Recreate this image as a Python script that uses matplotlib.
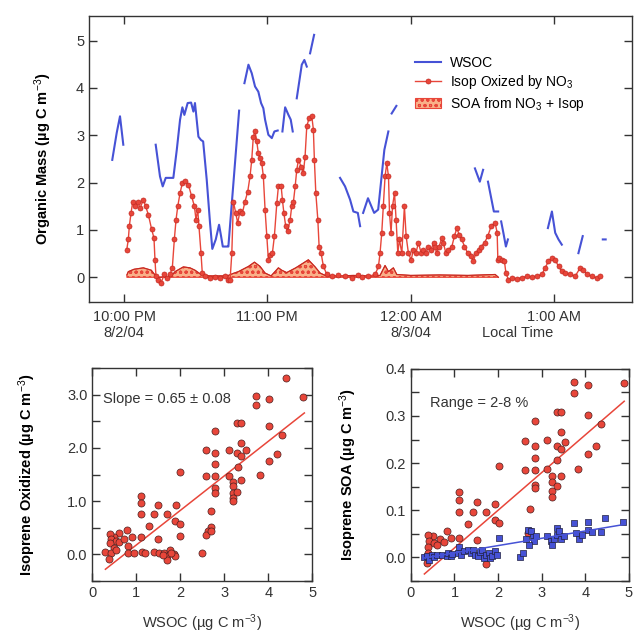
import numpy as np
import matplotlib
matplotlib.use("Agg")
import matplotlib.pyplot as plt
from matplotlib.ticker import MultipleLocator, FixedLocator

plt.rcParams['font.family'] = ['Liberation Sans', 'DejaVu Sans']
plt.rcParams['mathtext.fontset'] = 'custom'
plt.rcParams['mathtext.rm'] = 'Liberation Sans'
plt.rcParams['mathtext.it'] = 'Liberation Sans:italic'
plt.rcParams['hatch.linewidth'] = 0.8

nan = np.nan
# ---------------- Top panel data (hours after 10:00 PM) ----------------
wsoc_time = [-0.082, -0.051, -0.028, -0.005, nan,
             0.221, 0.251, 0.270, 0.291, 0.344, 0.368, 0.391, 0.407, 0.421, 0.444, 0.468,
             0.484, 0.495, 0.519, 0.537, 0.552, 0.577, 0.600, 0.616, 0.640, 0.663, 0.677,
             0.689, 0.723, 0.728, 0.765, 0.803, nan,
             0.840, 0.868, 0.891, 0.914, 0.937, 0.956, 0.972, 0.984, 1.007, 1.031, 1.049, 1.072, nan,
             1.105, 1.124, 1.147, 1.163, 1.177, nan,
             1.205, 1.240, 1.258, 1.275, nan,
             1.298, 1.326, nan,
             1.507, 1.542, 1.577, 1.600, 1.631, 1.647, nan,
             1.668, 1.702, 1.745, 1.773, 1.816, 1.844, nan,
             1.867, 1.900, nan,
             2.448, 2.482, 2.505, nan,
             2.539, 2.580, 2.610, nan,
             2.631, 2.647, 2.664, 2.678, nan,
             2.957, 2.985, 3.008, 3.031, 3.054, nan,
             3.170, 3.200, nan,
             3.340, 3.360]
wsoc_val = [2.48, 3.05, 3.40, 2.80, nan,
            2.80, 2.13, 1.92, 2.10, 2.10, 2.69, 3.33, 3.59, 3.43, 3.68, 3.69,
            3.50, 3.68, 2.97, 2.90, 2.87, 2.06, 1.15, 0.60, 0.80, 1.11, 0.87,
            0.65, 0.65, 0.65, 2.06, 3.52, nan,
            4.10, 4.49, 4.31, 4.03, 3.92, 3.68, 3.57, 3.33, 3.01, 2.94, 3.08, 3.10, nan,
            3.08, 3.59, 3.43, 3.33, 3.08, nan,
            3.78, 4.49, 4.59, 4.45, nan,
            4.73, 5.12, nan,
            2.10, 1.92, 1.64, 1.39, 1.36, 1.08, nan,
            1.36, 1.67, 1.36, 1.43, 2.69, 3.08, nan,
            3.46, 3.62, nan,
            2.30, 2.02, 2.27, nan,
            2.02, 1.39, 1.39, nan,
            1.18, 0.93, 0.65, 0.80, nan,
            1.04, 1.39, 0.94, 0.80, 0.69, nan,
            0.51, 0.87, nan,
            0.80, 0.80]

isop_time = [0.019, 0.030, 0.037, 0.049, 0.061, 0.077, 0.095, 0.112, 0.135, 0.151, 0.170,
             0.193, 0.209, 0.216, 0.223, 0.239, 0.258, 0.281, 0.298, 0.321, 0.337, 0.351,
             0.363, 0.375, 0.391, 0.407, 0.426, 0.449, 0.472, 0.491, 0.502, 0.514, 0.523,
             0.537, 0.546, 0.565, 0.600, 0.635, 0.670, 0.705, 0.728, 0.740, 0.752, 0.763,
             0.779, 0.793, 0.809, 0.826, 0.844, 0.863, 0.879, 0.891, 0.902, 0.914, 0.926,
             0.937, 0.949, 0.961, 0.972, 0.984, 0.996, 1.007, 1.019, 1.035, 1.049, 1.066,
             1.077, 1.096, 1.105, 1.115, 1.128, 1.142, 1.159, 1.170, 1.182, 1.194, 1.205,
             1.217, 1.235, 1.251, 1.263, 1.275, 1.291, 1.310, 1.321, 1.328, 1.338, 1.352,
             1.361, 1.375, 1.391, 1.415, 1.449, 1.496, 1.542, 1.589, 1.635, 1.659, 1.705,
             1.752, 1.775, 1.786, 1.798, 1.809, 1.821, 1.833, 1.845, 1.852, 1.863, 1.873,
             1.887, 1.898, 1.910, 1.921, 1.938, 1.956, 1.968, 1.984, 2.003, 2.019, 2.036,
             2.054, 2.073, 2.089, 2.106, 2.124, 2.142, 2.159, 2.170, 2.182, 2.198, 2.217,
             2.228, 2.245, 2.263, 2.287, 2.305, 2.322, 2.338, 2.357, 2.375, 2.398, 2.421,
             2.438, 2.454, 2.473, 2.491, 2.515, 2.538, 2.561, 2.589, 2.603, 2.608, 2.617,
             2.636, 2.654, 2.664, 2.682, 2.706, 2.741, 2.775, 2.810, 2.845, 2.880, 2.915,
             2.938, 2.961, 2.985, 3.008, 3.031, 3.054, 3.077, 3.112, 3.147, 3.182, 3.205,
             3.229, 3.264, 3.299, 3.322]
isop_val = [0.58, 0.80, 1.08, 1.36, 1.60, 1.50, 1.60, 1.46, 1.64, 1.50, 1.32,
            1.01, 0.83, 0.37, 0.02, -0.05, -0.12, 0.06, -0.01, 0.06, 0.20, 0.80,
            1.22, 1.50, 1.78, 1.99, 2.03, 1.96, 1.71, 1.50, 1.22, 1.43, 1.08,
            0.51, 0.09, 0.02, -0.01, 0.01, -0.01, 0.02, -0.05, -0.05, 0.51, 1.60,
            1.36, 1.15, 1.39, 1.36, 1.60, 1.81, 2.13, 2.48, 2.97, 3.08, 2.87,
            2.62, 2.52, 2.41, 2.13, 1.43, 0.87, 0.37, 0.48, 0.51, 0.87, 1.57,
            1.92, 1.93, 1.64, 1.36, 1.08, 0.97, 1.22, 1.50, 1.60, 1.92, 2.27,
            2.48, 2.34, 2.20, 2.55, 3.19, 3.36, 3.40, 3.12, 2.48, 1.78, 1.22,
            0.65, 0.51, 0.23, 0.06, 0.02, 0.04, 0.02, -0.01, 0.04, 0.01, 0.02,
            0.06, 0.23, 0.51, 0.94, 1.50, 2.13, 2.41, 2.13, 1.36, 0.94, 1.50,
            1.78, 1.22, 0.51, 0.80, 0.51, 1.50, 0.87, 0.51, 0.37, 0.58, 0.51,
            0.73, 0.51, 0.58, 0.51, 0.65, 0.58, 0.73, 0.65, 0.51, 0.65, 0.83,
            0.73, 0.51, 0.58, 0.65, 0.87, 1.04, 0.90, 0.80, 0.65, 0.51, 0.44,
            0.34, 0.51, 0.58, 0.65, 0.73, 0.87, 1.08, 1.15, 0.94, 0.37, 0.41,
            0.37, 0.34, 0.09, -0.05, -0.01, -0.03, -0.01, 0.02, 0.01, 0.02, 0.06,
            0.20, 0.34, 0.41, 0.37, 0.23, 0.13, 0.09, 0.06, 0.02, 0.20, 0.16,
            0.06, 0.02, -0.01, 0.02]

soa_time = [0.020, 0.030, 0.070, 0.135, 0.190, 0.216, 0.239, 0.300, 0.333, 0.356, 0.414,
            0.460, 0.495, 0.542, 0.600, 0.700, 0.728, 0.760, 0.798, 0.868, 0.910, 0.949,
            0.984, 1.026, 1.077, 1.100, 1.135, 1.198, 1.250, 1.286, 1.333, 1.368, 1.403,
            1.500, 1.600, 1.700, 1.786, 1.821, 1.845, 1.879, 1.903, 2.000, 2.200, 2.400,
            2.589, 2.612]
soa_val = [0.05, 0.12, 0.17, 0.20, 0.15, 0.05, 0.00, 0.01, 0.04, 0.12, 0.22,
           0.20, 0.15, 0.05, 0.03, 0.03, 0.04, 0.08, 0.12, 0.23, 0.32, 0.23,
           0.09, 0.03, 0.20, 0.15, 0.10, 0.20, 0.30, 0.37, 0.22, 0.09, 0.04,
           0.03, 0.04, 0.03, 0.04, 0.25, 0.12, 0.20, 0.06, 0.04, 0.05, 0.04,
           0.06, 0.00]

time_ticks = [0, 1, 2, 3]
time_labels = ["10:00 PM\n8/2/04", "11:00 PM", "12:00 AM\n8/3/04", "1:00 AM"]

# ---------------- Bottom-left scatter ----------------
left_wsoc = [4.40, 4.78, 3.71, 3.71, 4.01, 3.29, 3.39, 4.01, 4.31, 2.80, 2.59, 3.10, 3.49,
             2.80, 3.39, 3.30, 3.38, 4.19, 4.01, 2.80, 3.31, 2.00, 2.59, 2.80, 3.10, 3.81,
             3.19, 3.39, 2.80, 2.80, 3.21, 3.21, 3.30, 3.19, 3.21, 1.10, 1.10, 1.10, 1.50,
             1.90, 1.40, 1.70, 2.70, 1.89, 2.00, 1.30, 2.00, 2.70, 2.64, 2.59, 2.70, 1.50,
             0.91, 1.11, 0.79, 0.60, 0.49, 0.40, 0.42, 0.53, 0.40, 0.60, 0.72, 0.81, 0.49,
             0.30, 0.42, 0.53, 0.39, 0.82, 0.94, 1.13, 1.21, 1.41, 1.51, 1.62, 1.71, 1.70,
             1.77, 1.85, 1.87, 1.79, 2.49, 1.61]
left_isop = [3.32, 2.96, 2.98, 2.80, 2.92, 2.47, 2.47, 2.42, 2.24, 2.32, 1.96, 1.96, 1.96,
             1.90, 2.10, 1.91, 1.84, 1.88, 1.76, 1.69, 1.65, 1.55, 1.47, 1.47, 1.48, 1.50,
             1.36, 1.39, 1.25, 1.16, 1.28, 1.16, 1.17, 1.06, 1.00, 1.09, 0.97, 0.76, 0.93,
             0.92, 0.76, 0.76, 0.81, 0.63, 0.57, 0.54, 0.35, 0.51, 0.43, 0.37, 0.43, 0.28,
             0.32, 0.32, 0.46, 0.40, 0.33, 0.39, 0.28, 0.25, 0.21, 0.23, 0.28, 0.15, 0.11,
             0.04, 0.02, 0.08, -0.08, 0.02, 0.02, 0.05, 0.03, 0.05, 0.03, 0.02, -0.03, -0.11,
             0.08, 0.01, -0.04, 0.02, 0.02, -0.01]
left_fit = (0.65, -0.475)      # slope, intercept
left_fit_range = (0.30, 4.82)

# ---------------- Bottom-right scatter ----------------
right_wsoc_red = [4.89, 3.73, 3.73, 4.05, 3.34, 3.45, 4.05, 2.84, 4.35, 3.44, 2.62, 3.13, 3.53,
                  3.34, 2.84, 4.25, 3.44, 4.05, 2.84, 3.34, 2.02, 2.62, 2.84, 3.13, 3.84, 3.44,
                  3.24, 3.24, 2.84, 2.84, 3.34, 3.24, 3.24, 1.11, 1.11, 1.52, 1.92, 1.11, 1.43,
                  1.72, 2.73, 1.92, 2.02, 1.32, 0.82, 2.73, 2.68, 1.52, 1.11, 0.92, 0.66, 0.76,
                  0.50, 0.40, 0.42, 0.54, 0.40, 0.61, 0.40, 0.36, 1.73]
right_soa_red = [0.369, 0.372, 0.349, 0.365, 0.309, 0.309, 0.302, 0.290, 0.282, 0.265, 0.246,
                 0.248, 0.244, 0.237, 0.236, 0.237, 0.229, 0.220, 0.211, 0.206, 0.193, 0.186,
                 0.186, 0.188, 0.188, 0.173, 0.172, 0.159, 0.154, 0.147, 0.151, 0.140, 0.128,
                 0.138, 0.122, 0.117, 0.114, 0.097, 0.097, 0.096, 0.103, 0.080, 0.073, 0.070,
                 0.057, 0.057, 0.052, 0.036, 0.041, 0.041, 0.038, 0.032, 0.045, 0.048, 0.034,
                 0.030, 0.023, 0.027, 0.009, -0.011, -0.013]
right_wsoc_blue = [0.31, 0.38, 0.42, 0.48, 0.53, 0.61, 0.71, 0.82, 0.84, 0.92, 0.95, 1.07, 1.11,
                   1.15, 1.22, 1.30, 1.37, 1.43, 1.47, 1.53, 1.58, 1.64, 1.68, 1.73, 1.78, 1.81,
                   1.87, 1.93, 2.02, 1.98, 2.51, 2.57, 2.63, 2.68, 2.75, 2.79, 2.82, 2.86, 2.71,
                   3.13, 3.21, 3.24, 3.28, 3.34, 3.34, 3.40, 3.44, 3.51, 3.73, 3.78, 3.85, 3.93,
                   4.05, 4.05, 4.15, 4.35, 4.45, 4.86]
right_soa_blue = [0.000, 0.002, -0.005, 0.006, 0.001, 0.004, 0.006, 0.002, 0.009, 0.002, 0.007,
                  0.009, 0.023, 0.006, 0.013, 0.015, 0.009, 0.016, 0.006, 0.002, 0.011, 0.016,
                  -0.001, 0.004, 0.009, -0.001, 0.002, 0.014, 0.041, 0.004, 0.001, 0.009, 0.038,
                  0.059, 0.055, 0.043, 0.034, 0.045, 0.027, 0.045, 0.034, 0.027, 0.039, 0.048,
                  0.062, 0.055, 0.038, 0.045, 0.073, 0.052, 0.038, 0.048, 0.074, 0.059, 0.053,
                  0.053, 0.084, 0.074]
right_fit_red = (0.080, -0.060)
right_fit_blue = (0.0155, -0.006)
right_fit_range = (0.31, 4.89)

# ---------------- styling ----------------
RED = '#e8463a'
RED_DARK = '#c42a22'
BLUE = '#4652d6'
TXT = '#333333'
FRAME = '#333333'

fig = plt.figure(figsize=(6.36, 6.37), dpi=100)

def style_axes(ax):
    for s in ax.spines.values():
        s.set_color(FRAME)
        s.set_linewidth(1.0)
    ax.tick_params(which='both', direction='in', top=True, right=True,
                   length=6, width=1.0, color=FRAME, labelcolor=TXT, labelsize=10.5)

# Top panel
ax = fig.add_axes([0.140, 0.526, 0.854, 0.449])
ax.plot(wsoc_time, wsoc_val, color=BLUE, lw=1.5, label='WSOC', zorder=3)
ax.plot(isop_time, isop_val, color=RED, lw=1.0, marker='o', ms=3.6,
        mfc=RED, mec=RED_DARK, mew=0.5, label='Isop Oxized by NO$_3$', zorder=4)
ax.fill_between(soa_time, 0, soa_val, facecolor='#f9b089', edgecolor=RED,
                hatch='ooo', linewidth=0.8, label='SOA from NO$_3$ + Isop', zorder=2)
ax.plot(soa_time, soa_val, color=RED_DARK, lw=0.8, zorder=2)
ax.set_xlim(-0.244, 3.545)
ax.set_ylim(-0.52, 5.52)
ax.xaxis.set_major_locator(FixedLocator(time_ticks))
ax.set_xticklabels(time_labels)
ax.yaxis.set_major_locator(MultipleLocator(1))
style_axes(ax)
ax.tick_params(axis='x', pad=6)
ax.set_ylabel('Organic Mass (µg C m$^{-3}$)', fontsize=10.5, fontweight='bold', color='black', labelpad=16)
ax.text(0.79, -0.108, 'Local Time', transform=ax.transAxes, ha='center', va='center',
        fontsize=10.5, color=TXT)
leg = ax.legend(loc='upper left', bbox_to_anchor=(0.59, 0.88), frameon=False,
                fontsize=10, handlelength=1.9, handletextpad=0.6, labelspacing=0.25,
                borderaxespad=0)

# Bottom-left
ax2 = fig.add_axes([0.145, 0.088, 0.346, 0.334])
ax2.scatter(left_wsoc, left_isop, s=26, c=RED, edgecolors='#4a2020', linewidths=0.5, zorder=3)
xf = np.array(left_fit_range)
ax2.plot(xf, left_fit[0] * xf + left_fit[1], color=RED, lw=1.1, zorder=2)
ax2.set_xlim(0, 5)
ax2.set_ylim(-0.5, 3.5)
ax2.xaxis.set_major_locator(MultipleLocator(1))
ax2.yaxis.set_major_locator(MultipleLocator(1))
ax2.yaxis.set_minor_locator(MultipleLocator(0.5))
ax2.yaxis.set_major_formatter(matplotlib.ticker.FormatStrFormatter('%.1f'))
style_axes(ax2)
ax2.tick_params(which='minor', length=6)
ax2.set_xlabel('WSOC (µg C m$^{-3}$)', fontsize=10.5, color=TXT, labelpad=9)
ax2.set_ylabel('Isoprene Oxidized (µg C m$^{-3}$)', fontsize=10.5, fontweight='bold',
               color='black', labelpad=21)
ax2.text(0.24, 2.93, 'Slope = 0.65 ± 0.08', fontsize=10.5, color=TXT, va='center')

# Bottom-right
ax3 = fig.add_axes([0.646, 0.088, 0.343, 0.333])
ax3.scatter(right_wsoc_red, right_soa_red, s=26, c=RED, edgecolors='#4a2020', linewidths=0.5, zorder=3)
ax3.scatter(right_wsoc_blue, right_soa_blue, s=24, c=BLUE, marker='s', edgecolors='#202040',
            linewidths=0.5, zorder=4)
xr = np.array(right_fit_range)
ax3.plot(xr, right_fit_red[0] * xr + right_fit_red[1], color=RED, lw=1.1, zorder=2)
ax3.plot(xr, right_fit_blue[0] * xr + right_fit_blue[1], color=BLUE, lw=1.1, zorder=5)
ax3.set_xlim(0, 5)
ax3.set_ylim(-0.05, 0.4)
ax3.xaxis.set_major_locator(MultipleLocator(1))
ax3.yaxis.set_major_locator(MultipleLocator(0.1))
ax3.yaxis.set_minor_locator(MultipleLocator(0.05))
ax3.yaxis.set_major_formatter(matplotlib.ticker.FormatStrFormatter('%.1f'))
style_axes(ax3)
ax3.tick_params(which='minor', length=6)
ax3.set_xlabel('WSOC (µg C m$^{-3}$)', fontsize=10.5, color=TXT, labelpad=9)
ax3.set_ylabel('Isoprene SOA (µg C m$^{-3}$)', fontsize=10.5, fontweight='bold',
               color='black', labelpad=19)
ax3.text(0.44, 0.327, 'Range = 2-8 %', fontsize=10.5, color=TXT, va='center')

fig.savefig('out.png', dpi=100)
